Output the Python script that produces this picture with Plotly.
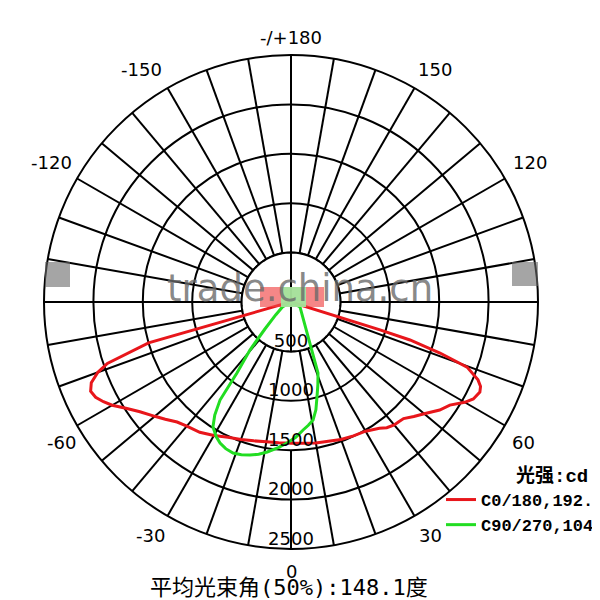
import plotly.graph_objects as go

# ---- data (cd vs. angle in degrees) ----
red_theta = [-180, -120, -90, -80, -75.5, -74, -71.5, -70, -68, -66, -64, -62, -60, -57, -54,
             -50, -47, -43.5, -40, -35, -30, -25, -20, -15, -10, -5, 0, 5, 10, 15, 20, 25, 30,
             35, 37.3, 40, 42, 44, 47, 50, 54, 57, 60, 62, 64.5, 66, 67.4, 69.7, 71.1, 72.3,
             72.6, 73.5, 80, 90, 120, 180]
red_r = [20, 20, 20, 25, 30, 1500, 1960, 2080, 2180, 2220, 2200, 2150, 2090, 1980, 1890,
         1800, 1740, 1675, 1640, 1610, 1560, 1510, 1480, 1455, 1437, 1430, 1430, 1435, 1450,
         1460, 1480, 1495, 1510, 1560, 1600, 1625, 1630, 1640, 1700, 1760, 1860, 1917, 2030,
         2090, 2118, 2100, 2050, 1900, 1594, 1264, 944, 30, 25, 20, 20, 20]

green_theta = [-90, -60, -50, -44, -41.8, -40.5, -37.3, -35.9, -34, -32, -29, -26.7, -24, -21,
               -18, -15, -12, -9, -5, -1.6, 2, 5.4, 8, 10.6, 13, 15.3, 18, 20.8, 61, 90]
green_r = [0, 100, 200, 380, 516, 640, 903, 1225, 1380, 1491, 1560, 1598, 1625, 1637,
           1625, 1603, 1575, 1537, 1480, 1428, 1370, 1301, 1260, 1215, 1120, 997, 880, 769, 104, 0]

radial_ticks = [500, 1000, 1500, 2000, 2500]
radial_labels = ["500", "1000", "1500", "2000", "2500"]

angle_grid = [a for a in range(10, 360, 10)]
angle_label_text = ["0", "30", "60", "120", "150", "-/+180", "-150", "-120", "-60", "-30"]

inner_circle_theta = list(range(0, 361, 2))
inner_circle_r = [500] * len(inner_circle_theta)

series_names = ["C0/180,192.", "C90/270,104"]

R_MAX = 2500

# ---- layout helpers: page pixel -> paper coords (page body has an 8px margin) ----
OFF = 8
W = H = 600


def px(x):
    return (x - OFF) / W


def py(y):
    return 1 - (y - OFF) / H


# label centres (page pixels) for the angle labels
angle_label_pos = [(291, 571), (430, 535), (523, 442), (530, 163), (435, 70), (291, 37),
                   (141, 70), (51, 163), (61, 442), (150, 535)]

CX, CY, RAD = 291, 302, 247  # circle centre / radius in page pixels

fig = go.Figure()

fig.add_trace(go.Scatterpolar(theta=inner_circle_theta, r=inner_circle_r, mode="lines",
                              fill="toself", fillcolor="white",
                              line=dict(color="black", width=2), showlegend=False,
                              hoverinfo="skip"))
fig.add_trace(go.Scatterpolar(theta=[180, 0], r=[500, 500], mode="lines",
                              line=dict(color="black", width=2), showlegend=False,
                              hoverinfo="skip"))
fig.add_trace(go.Scatterpolar(theta=[0, 0], r=[1500, R_MAX], mode="lines",
                              line=dict(color="black", width=2), showlegend=False,
                              hoverinfo="skip"))

fig.add_trace(go.Scatterpolar(theta=red_theta, r=red_r, mode="lines", name=series_names[0],
                              line=dict(color="#e8161b", width=3)))
fig.add_trace(go.Scatterpolar(theta=green_theta, r=green_r, mode="lines", name=series_names[1],
                              line=dict(color="#22dd22", width=3)))

fig.add_trace(go.Scatterpolar(theta=[0] * len(radial_ticks), r=radial_ticks, mode="text",
                              text=radial_labels, textposition="top center",
                              marker=dict(size=1),
                              textfont=dict(family="DejaVu Sans", size=18, color="black"),
                              showlegend=False, hoverinfo="skip", cliponaxis=False))

annotations = []
for txt, (ax, ay) in zip(angle_label_text, angle_label_pos):
    annotations.append(dict(text=txt, x=px(ax), y=py(ay), xref="paper", yref="paper",
                            xanchor="center", yanchor="middle", showarrow=False,
                            font=dict(family="DejaVu Sans", size=18, color="black")))
annotations += [
    dict(text="平均光束角(50%):148.1度", x=px(289), y=py(587), xref="paper", yref="paper",
         xanchor="center", yanchor="middle", showarrow=False,
         font=dict(family="DejaVu Sans Mono, Noto Sans CJK SC", size=22, color="black")),
    dict(text="光强:cd", x=px(514), y=py(476), xref="paper", yref="paper",
         xanchor="left", yanchor="middle", showarrow=False,
         font=dict(family="Liberation Mono, Noto Sans CJK SC", size=19, color="black",
                   weight="bold")),
    dict(text="trade.china.cn", x=px(300), y=py(289), xref="paper", yref="paper",
         xanchor="center", yanchor="middle", showarrow=False,
         font=dict(family="DejaVu Sans", size=37, color="rgba(105,105,105,0.8)")),
]

shapes = [
    dict(type="rect", xref="paper", yref="paper", x0=px(45), x1=px(70),
         y0=py(287), y1=py(262), fillcolor="rgba(105,105,105,0.6)",
         line=dict(width=0), layer="above"),
    dict(type="rect", xref="paper", yref="paper", x0=px(512), x1=px(538),
         y0=py(286), y1=py(262), fillcolor="rgba(105,105,105,0.6)",
         line=dict(width=0), layer="above"),
    dict(type="rect", xref="paper", yref="paper", x0=px(260), x1=px(324),
         y0=py(307), y1=py(287), fillcolor="rgba(240,70,70,0.65)",
         line=dict(width=0), layer="above"),
    dict(type="rect", xref="paper", yref="paper", x0=px(281), x1=px(306),
         y0=py(307), y1=py(287), fillcolor="rgba(160,235,160,0.9)",
         line=dict(width=0), layer="above"),
]

fig.update_layout(
    width=W, height=H,
    margin=dict(l=0, r=0, t=0, b=0),
    paper_bgcolor="white",
    polar=dict(
        domain=dict(x=[px(CX - RAD), px(CX + RAD)], y=[py(CY + RAD), py(CY - RAD)]),
        bgcolor="white",
        radialaxis=dict(range=[0, R_MAX], tickvals=radial_ticks, showticklabels=False,
                        ticks="", showline=False, gridcolor="black", gridwidth=2),
        angularaxis=dict(rotation=270, direction="counterclockwise",
                         tickmode="array", tickvals=angle_grid, showticklabels=False,
                         ticks="", gridcolor="black", gridwidth=2,
                         showline=True, linecolor="black", linewidth=2),
    ),
    showlegend=True,
    legend=dict(x=px(441), y=py(482), xanchor="left", yanchor="top",
                bgcolor="rgba(0,0,0,0)", itemwidth=30, tracegroupgap=0,
                font=dict(family="Liberation Mono", size=17, color="black", weight="bold")),
    shapes=shapes,
    annotations=annotations,
)

fig.write_html("out.html")
